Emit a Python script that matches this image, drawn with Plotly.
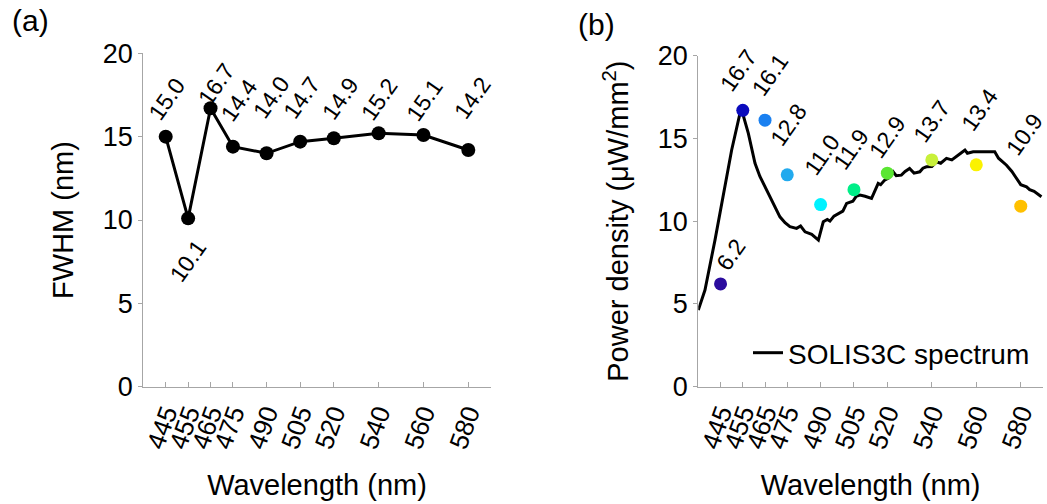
import plotly.graph_objects as go

# ---------------- data ----------------
wavelengths = [445, 455, 465, 475, 490, 505, 520, 540, 560, 580]
tick_labels = ["445", "455", "465", "475", "490", "505", "520", "540", "560", "580"]
fwhm = [15.0, 10.1, 16.7, 14.4, 14.0, 14.7, 14.9, 15.2, 15.1, 14.2]
power = [6.2, 16.7, 16.1, 12.8, 11.0, 11.9, 12.9, 13.7, 13.4, 10.9]
dot_colors = ["#2b0c9e", "#0b0bbd", "#1a80f0", "#22aaee", "#00f2ff",
              "#00ee88", "#5ae632", "#c8f03a", "#fbf200", "#ffc000"]

spec_wl = [435, 438, 442.5, 446.2, 450, 453.7, 455.2, 457.5, 460.5, 462.7, 466.5,
           468.7, 471.7, 474, 476.2, 479.2, 481, 483, 486, 489, 491.2, 493, 494.2,
           496, 498, 500, 501.7, 504.5, 506, 507.7, 510, 512.9, 514, 515.9, 517,
           518.8, 520.5, 522.6, 524, 526.3, 528, 530, 532, 534.6, 536, 537.6, 540,
           542.1, 544, 546.6, 549, 551.1, 553, 554.9, 556, 558.6, 563, 568.3,
           570, 573.6, 576, 578.1, 580, 582.6, 584, 586, 589.3]
spec_val = [4.62, 5.83, 8.85, 11.47, 14.3, 16.5, 16.4, 15.3, 13.5, 12.7, 11.67,
            11.07, 10.26, 9.9, 9.66, 9.56, 9.7, 9.35, 9.2, 8.85, 9.96, 10.1, 10.0,
            10.3, 10.46, 10.6, 11.07, 11.2, 11.5, 11.57, 11.5, 11.37, 11.7, 12.28,
            12.2, 12.48, 12.6, 12.98, 12.75, 12.78, 13.0, 13.18, 12.9, 12.98,
            13.2, 13.28, 13.3, 13.58, 13.5, 13.79, 13.7, 13.89, 14.1, 14.29, 14.1,
            14.19, 14.19, 14.19, 13.8, 13.38, 13.0, 12.58, 12.2, 12.07, 11.9, 11.8,
            11.47]

# label offsets (pixels) for the rotated value labels
fwhm_label_shift = [(1, 38), (0, -43), (6, 24), (6, 47), (5, 56), (1, 44), (7, 40),
                    (1, 34), (1, 35), (4, 52)]
power_label_shift = [(10, 29), (-4, 40), (5, 45), (1, 50), (1, 50), (-3, 41), (0, 36),
                     (0, 39), (3, 55), (4, 72)]

FONT = "Liberation Sans, Arial, sans-serif"
AXIS_GRAY = "#a6a6a6"

fig = go.Figure()

fig.add_trace(go.Scatter(
    x=wavelengths, y=fwhm, mode="lines+markers",
    line=dict(color="black", width=3),
    marker=dict(color="black", size=14),
    showlegend=False, xaxis="x", yaxis="y"))

fig.add_trace(go.Scatter(
    x=spec_wl, y=spec_val, mode="lines",
    line=dict(color="black", width=3),
    name="SOLIS3C spectrum", showlegend=True, xaxis="x2", yaxis="y2"))

fig.add_trace(go.Scatter(
    x=wavelengths, y=power, mode="markers",
    marker=dict(color=dot_colors, size=13),
    showlegend=False, xaxis="x2", yaxis="y2"))

annotations = []
for w, v, (dx, dy) in zip(wavelengths, fwhm, fwhm_label_shift):
    annotations.append(dict(x=w, y=v, xref="x", yref="y", text=f"{v:.1f}",
                            showarrow=False, textangle=-55, xshift=dx, yshift=dy,
                            xanchor="center", yanchor="middle",
                            font=dict(family=FONT, size=23, color="black")))
for w, v, (dx, dy) in zip(wavelengths, power, power_label_shift):
    annotations.append(dict(x=w, y=v, xref="x2", yref="y2", text=f"{v:.1f}",
                            showarrow=False, textangle=-55, xshift=dx, yshift=dy,
                            xanchor="center", yanchor="middle",
                            font=dict(family=FONT, size=23, color="black")))
annotations.append(dict(x=30 / 1047, y=1 - 21 / 504, xref="paper", yref="paper",
                        text="(a)", showarrow=False, xanchor="center", yanchor="middle",
                        font=dict(family=FONT, size=30, color="black")))
annotations.append(dict(x=596 / 1047, y=1 - 24 / 504, xref="paper", yref="paper",
                        text="(b)", showarrow=False, xanchor="center", yanchor="middle",
                        font=dict(family=FONT, size=30, color="black")))

def xaxis_style(domain, anchor):
    return dict(domain=domain, anchor=anchor, range=[435, 590], automargin=False,
                tickmode="array", tickvals=wavelengths, ticktext=tick_labels,
                tickangle=-70, ticks="inside", ticklen=5, tickcolor=AXIS_GRAY,
                showline=True, linecolor=AXIS_GRAY, linewidth=1,
                showgrid=False, zeroline=False,
                tickfont=dict(family=FONT, size=26, color="black"),
                title=dict(text="Wavelength (nm)", standoff=22,
                           font=dict(family=FONT, size=29, color="black")))

def yaxis_style(domain, anchor, title):
    return dict(domain=domain, anchor=anchor, range=[0, 20], automargin=False,
                tickvals=[0, 5, 10, 15, 20], ticks="outside", ticklen=4,
                tickcolor=AXIS_GRAY, showline=True, linecolor=AXIS_GRAY,
                linewidth=1, showgrid=False, zeroline=False,
                tickfont=dict(family=FONT, size=27, color="black"),
                title=dict(text=title, standoff=20,
                           font=dict(family=FONT, size=29, color="black")))

fig.update_layout(
    template="none",
    width=1047, height=504,
    margin=dict(l=0, r=0, t=0, b=0, autoexpand=False),
    paper_bgcolor="white", plot_bgcolor="white",
    font=dict(family=FONT, color="black"),
    xaxis=xaxis_style([143.3 / 1047, 490.7 / 1047], "y"),
    yaxis=yaxis_style([(504 - 386.7) / 504, (504 - 53.3) / 504], "x", "FWHM (nm)"),
    xaxis2=xaxis_style([698.3 / 1047, 1043 / 1047], "y2"),
    yaxis2=yaxis_style([(504 - 386.5) / 504, (504 - 55.7) / 504], "x2",
                       "Power density (μW/mm<sup>2</sup>)"),
    legend=dict(x=748 / 1047, y=1 - 353 / 504, xanchor="left", yanchor="middle",
                bgcolor="rgba(0,0,0,0)", font=dict(family=FONT, size=28, color="black"),
                itemwidth=30, tracegroupgap=0),
    annotations=annotations,
)

fig.write_html("out.html",
               config={"displayModeBar": False},
               post_script="document.body.style.margin='0';"
                           "document.body.style.overflow='hidden';")
